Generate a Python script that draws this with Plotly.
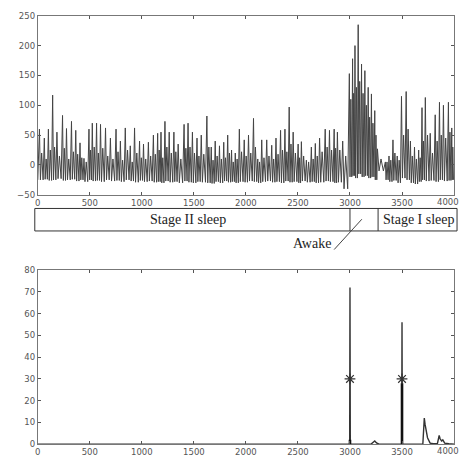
import plotly.graph_objects as go

# ---- Respiration signal: one entry per breath cycle ----
PEAK_T = [16, 63, 102, 143, 184, 238, 276, 324, 365, 406,
          444, 492, 524, 565, 603, 651, 698, 752, 794, 841,
          889, 930, 978, 1016, 1063, 1111, 1152, 1184, 1222, 1263,
          1308, 1349, 1406, 1444, 1486, 1530, 1571, 1625, 1667, 1705,
          1746, 1787, 1825, 1862, 1898, 1937, 1984, 2025, 2073, 2114,
          2152, 2200, 2248, 2289, 2333, 2375, 2416, 2454, 2502, 2533,
          2581, 2629, 2667, 2708, 2762, 2803, 2848, 2879, 2930,
          2994, 3025, 3048, 3079, 3111, 3143, 3175, 3206, 3238, 3264,
          3340, 3375, 3413, 3454, 3495, 3540, 3581, 3620, 3660, 3692,
          3724, 3771, 3819, 3860, 3898, 3946, 3978]
PEAK_V = [60, 45, 60, 117, 55, 83, 61, 73, 58, 37,
          11, 60, 70, 70, 68, 62, 45, 60, 40, 62,
          32, 62, 40, 35, 38, 50, 53, 55, 73, 55,
          55, 35, 68, 70, 55, 45, 50, 82, 30, 40,
          32, 38, 50, 25, 20, 60, 42, 50, 78, 10,
          42, 42, 33, 45, 58, 60, 97, 55, 35, 39,
          8, 30, 36, 45, 60, 58, 60, 55, 40,
          153, 178, 200, 235, 169, 158, 130, 119, 91, 27,
          5, 15, 42, 15, 115, 123, 40, 30, 25, 96,
          113, 53, 84, 105, 100, 105, 62]
BUMP_V = [20, 10, 25, 30, 15, 28, 10, 22, 18, 12,
          5, 25, 30, 20, 28, 15, 10, 22, 8, 25,
          5, 20, 12, 10, 15, 18, 25, 12, 30, 20,
          22, 10, 28, 30, 20, 15, 18, 30, 8, 15,
          10, 12, 20, 5, 10, 22, 15, 20, 30, 5,
          12, 15, 10, 18, 25, 22, 35, 20, 12, 15,
          5, 10, 15, 22, 30, 25, 28, 25, 15,
          110, 120, 130, 140, 120, 100, 80, 70, 50, 10,
          5, 8, 20, 8, 50, 60, 15, 10, 12, 40,
          50, 20, 40, 50, 45, 55, 30]
TROUGH_V = [-25, -24, -26, -25, -23, -26, -25, -24, -27, -25,
            -28, -25, -27, -26, -28, -25, -27, -26, -28, -25,
            -27, -29, -26, -28, -27, -29, -28, -30, -27, -29,
            -28, -30, -27, -29, -30, -28, -29, -30, -31, -28,
            -30, -27, -29, -28, -30, -28, -29, -27, -28, -30,
            -28, -27, -29, -28, -30, -27, -29, -28, -30, -27,
            -29, -28, -30, -29, -27, -28, -30, -29, -40,
            -20, -18, -22, -15, -20, -18, -22, -20, -25, -10,
            -25, -28, -26, -30, -22, -25, -30, -32, -28, -25,
            -27, -26, -28, -25, -27, -26, -25]
T_END = 4000

# ---- Sleep stages ----
STAGE_BOUNDS = [3000, 3270]
STAGE_NAMES = ["Stage II sleep", "Stage I sleep"]

# ---- Spectrum ----
SPEC_X = [0, 2997, 3000, 3003, 3200, 3225, 3238, 3255, 3280, 3497, 3500, 3503,
          3700, 3707, 3714, 3722, 3730, 3745, 3770, 3800, 3840, 3850, 3857,
          3866, 3880, 3892, 3910, 3950, 4000]
SPEC_Y = [0, 0, 72, 0, 0, 0.8, 1.5, 0.6, 0, 0, 56, 0,
          0, 6, 12, 9, 7, 3, 0.5, 0.2, 0.3, 2, 4, 2.5, 1.5, 2, 0.5, 0.2, 0]
PEAK_FREQ = [3000, 3500]
PEAK_MARK = [30, 30]
BASE_X = [3000, 3000, None, 3500, 3500]
BASE_Y = [0, 2, None, 0, 28]

X_TICKS = list(range(0, 4001, 500))

# Build signal vertices: spike, dip, secondary bump, trough before next spike
sx, sy = [0], [TROUGH_V[0]]
for i, t in enumerate(PEAK_T):
    nxt = PEAK_T[i + 1] if i + 1 < len(PEAK_T) else T_END
    g = nxt - t
    sx += [t, t + 0.2 * g, t + 0.45 * g, t + 0.75 * g]
    sy += [PEAK_V[i], TROUGH_V[i], BUMP_V[i], TROUGH_V[i]]

W, H = 462, 459
X0, X1 = 35, 454


def py(p):
    return 1 - p / H


fig = go.Figure()
fig.add_trace(go.Scatter(x=sx, y=sy, mode="lines",
                         line=dict(color="#444444", width=1),
                         xaxis="x", yaxis="y", hoverinfo="skip"))
fig.add_trace(go.Scatter(x=SPEC_X, y=SPEC_Y, mode="lines",
                         line=dict(color="#333333", width=1.4),
                         xaxis="x2", yaxis="y2"))
fig.add_trace(go.Scatter(x=BASE_X, y=BASE_Y, mode="lines",
                         line=dict(color="#111111", width=2.6),
                         xaxis="x2", yaxis="y2"))
fig.add_trace(go.Scatter(x=PEAK_FREQ, y=PEAK_MARK, mode="markers",
                         marker=dict(symbol="asterisk-open", size=9, color="#333333",
                                     line=dict(color="#333333", width=1.2)),
                         xaxis="x2", yaxis="y2"))

tick_font = dict(family="DejaVu Sans", size=8.5, color="#555555")
axis_style = dict(showline=True, linecolor="#777777", linewidth=1,
                  mirror="ticks", ticks="inside", ticklen=3,
                  tickcolor="#555555", showgrid=False, zeroline=False,
                  tickfont=tick_font)
x_text = [str(v) for v in X_TICKS[:-1]] + [""]

fig.update_layout(
    width=W, height=H,
    margin=dict(l=0, r=0, t=0, b=0),
    paper_bgcolor="white", plot_bgcolor="white",
    showlegend=False,
    xaxis=dict(domain=[X0 / W, X1 / W], range=[0, 4000], anchor="y",
               tickvals=X_TICKS, ticktext=x_text, **axis_style),
    yaxis=dict(domain=[py(194), py(11)], range=[-50, 250], anchor="x",
               tickvals=list(range(-50, 251, 50)), **axis_style),
    xaxis2=dict(domain=[X0 / W, X1 / W], range=[0, 4000], anchor="y2",
                tickvals=X_TICKS, ticktext=x_text, **axis_style),
    yaxis2=dict(domain=[py(449), py(271)], range=[0, 80], anchor="x2",
                tickvals=list(range(0, 81, 10)), **axis_style),
)

# Last x tick label, kept inside the page edge
for ypix in (194, 449):
    fig.add_annotation(x=1, xref="paper", xshift=-1,
                       y=py(ypix + 7), yref="paper", text=str(X_TICKS[-1]),
                       showarrow=False, xanchor="right", yanchor="middle",
                       font=tick_font)

# Sleep-stage band under the top panel
band_top, band_bot = py(208), py(231)
fig.add_shape(type="rect", xref="paper", yref="paper",
              x0=32 / W, x1=457 / W, y0=band_bot, y1=band_top,
              line=dict(color="#333333", width=1))
for e in STAGE_BOUNDS:
    fig.add_shape(type="line", xref="x", yref="paper", x0=e, x1=e,
                  y0=band_bot, y1=band_top, line=dict(color="#333333", width=1))
fig.add_annotation(x=STAGE_BOUNDS[0] / 2, y=(band_top + band_bot) / 2,
                   xref="x", yref="paper", text=STAGE_NAMES[0], showarrow=False,
                   xshift=-6,
                   font=dict(family="Liberation Serif", size=14, color="#222222"))
fig.add_annotation(x=457 / W, y=(band_top + band_bot) / 2,
                   xref="paper", yref="paper", text=STAGE_NAMES[1], showarrow=False,
                   xanchor="right", xshift=0,
                   font=dict(family="Liberation Serif", size=14, color="#222222"))

# "Awake" label with pointer into the short stage
fig.add_shape(type="line", xref="x", yref="paper", x0=2848, x1=3114,
              y0=py(250), y1=py(219), line=dict(color="#444444", width=1))
fig.add_annotation(x=2840, y=py(244), xref="x", yref="paper", text="Awake",
                   xanchor="right", showarrow=False,
                   font=dict(family="Liberation Serif", size=14, color="#222222"))

fig.write_html("out.html")
